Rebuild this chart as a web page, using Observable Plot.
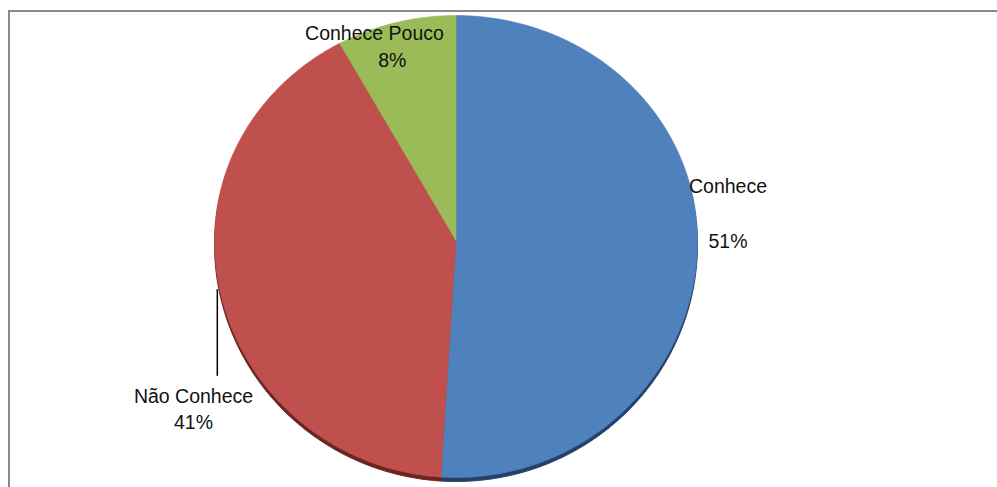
<!DOCTYPE html>
<html>
<head>
<meta charset="utf-8">
<script src="https://cdn.jsdelivr.net/npm/d3@7"></script>
<script src="https://cdn.jsdelivr.net/npm/@observablehq/plot@0.6"></script>
<style>
  html, body { margin: 0; padding: 0; background: #fff; overflow: hidden; }
  #wrap { position: relative; width: 997px; height: 487px; }
  #frame {
    position: absolute; left: 8px; top: 10px; width: 1200px; height: 700px;
    border-left: 2px solid #8a8a8a; border-top: 2px solid #8a8a8a;
    pointer-events: none;
  }
  #chart svg { display: block; }
</style>
</head>
<body>
<div id="wrap">
  <div id="chart"></div>
  <div id="frame"></div>
</div>
<script>
// Survey answers and their shares (percent)
const categories = ["Conhece", "Não Conhece", "Conhece Pouco"];
const shares = [51, 41, 8];
const pctLabels = ["51%", "41%", "8%"];
const sliceColors = ["#4F81BD", "#C0504D", "#9BBB59"];
const rimColors = ["#24416a", "#6a2422", "#56692f"];

// The pie is seen slightly from above: the near half looks a little deeper
const near = 237 / 225;

// Pie layout: clockwise from 12 o'clock, in data order
const arcs = d3.pie().sort(null).value((d, i) => shares[i])(categories);

const rim = t => ({x: Math.sin(t), y: Math.cos(t) < 0 ? Math.cos(t) * near : Math.cos(t)});

// Outline of every slice in unit coordinates (y up)
const outline = arcs.flatMap((a, i) => {
  const n = Math.max(2, Math.ceil((a.endAngle - a.startAngle) / (Math.PI / 360)));
  const pts = [{slice: categories[i], i, x: 0, y: 0}];
  for (let k = 0; k <= n; ++k) {
    const t = a.startAngle + (a.endAngle - a.startAngle) * k / n;
    pts.push({slice: categories[i], i, ...rim(t)});
  }
  pts.push({slice: categories[i], i, x: 0, y: 0});
  return pts;
});

// Label anchors at the middle of each slice's rim
const slices = arcs.map((a, i) => {
  const p = rim((a.startAngle + a.endAngle) / 2);
  return {name: categories[i], pct: pctLabels[i], lx: p.x, ly: p.y};
});

// Label offsets (pixels) from each anchor
const labelOffsets = {
  "Conhece":       {name: [30.6, -61.6], pct: [30.6, -6.6]},
  "Não Conhece":   {name: [-26.8, 105],  pct: [-26.8, 131]},
  "Conhece Pouco": {name: [-21.5, 10.7], pct: [-3.6, 37.7]}
};

const font = {fontFamily: "'Liberation Sans', Arial, sans-serif", fontSize: 19.5, fill: "#111"};

const labelMarks = slices.flatMap(s => {
  const o = labelOffsets[s.name];
  return [
    Plot.text([s], {x: "lx", y: "ly", text: "name", dx: o.name[0], dy: o.name[1], ...font}),
    Plot.text([s], {x: "lx", y: "ly", text: "pct", dx: o.pct[0], dy: o.pct[1], ...font})
  ];
});

const chart = Plot.plot({
  width: 997,
  height: 487,
  margin: 0,
  x: {domain: [-1, 1], range: [214, 697], axis: null},
  y: {domain: [-near, 1], range: [477, 15], axis: null},
  color: {type: "identity"},
  marks: [
    // pie thickness seen below the top face
    Plot.line(outline, {x: "x", y: "y", z: "slice", fill: d => rimColors[d.i], stroke: d => rimColors[d.i], strokeWidth: 1, dy: 4}),
    // top face
    Plot.line(outline, {x: "x", y: "y", z: "slice", fill: d => sliceColors[d.i], stroke: d => sliceColors[d.i], strokeWidth: 0.6}),
    // leader line for the left label
    Plot.link(slices.filter(s => s.name === "Não Conhece"), {
      x1: "lx", y1: "ly", x2: "lx", y2: d => d.ly - 0.385,
      dx: -3, dy: -3, stroke: "#000", strokeWidth: 1.5
    }),
    ...labelMarks
  ]
});

document.getElementById("chart").append(chart);
</script>
</body>
</html>
